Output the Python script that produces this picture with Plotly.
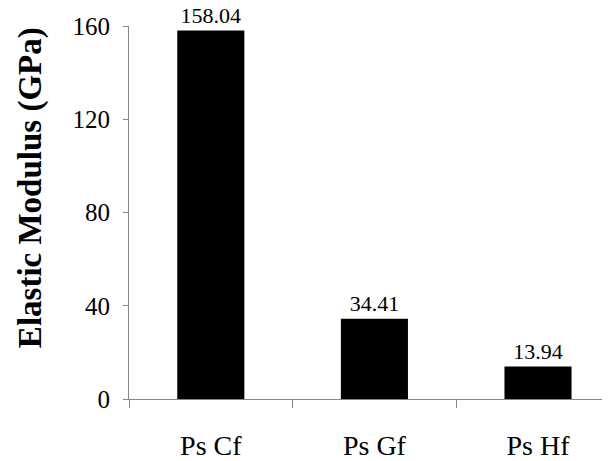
import plotly.graph_objects as go

categories = ["Ps Cf", "Ps Gf", "Ps Hf"]
values = [158.04, 34.41, 13.94]
value_labels = ["158.04", "34.41", "13.94"]
y_ticks = [0, 40, 80, 120, 160]

FONT = "Liberation Serif, Times New Roman, serif"

# page body adds an 8px offset, so figure is sized 602x453
W, H = 602, 453
L, T, B = 121, 18, 60
plot_h = H - T - B

fig = go.Figure(go.Bar(
    x=categories, y=values,
    text=value_labels, textposition="outside", cliponaxis=False,
    textfont=dict(family=FONT, size=22, color="black"),
    marker=dict(color="black", line=dict(width=0)),
    width=0.41,
))

fig.update_layout(
    width=W, height=H,
    margin=dict(l=L, r=0, t=T, b=B),
    plot_bgcolor="white", paper_bgcolor="white",
    showlegend=False,
    xaxis=dict(
        range=[-0.5, 2.44], showline=True, linecolor="#868686", linewidth=1,
        ticks="outside", tickson="boundaries", ticklen=8, tickcolor="#868686",
        tickfont=dict(family=FONT, size=28, color="black"),
        ticklabelstandoff=21, showgrid=False, zeroline=False,
    ),
    yaxis=dict(
        range=[0, 160], tickvals=y_ticks, showline=True, linecolor="#868686", linewidth=1,
        ticks="outside", ticklen=5, tickcolor="#868686",
        tickfont=dict(family=FONT, size=25, color="black"),
        ticklabelstandoff=8, showgrid=False, zeroline=False,
    ),
    annotations=[dict(
        text="<b>Elastic Modulus (GPa)</b>", textangle=-90,
        xref="paper", yref="paper", x=(22 - L) / (W - L), y=1 - (181 - T) / plot_h,
        xanchor="center", yanchor="middle", showarrow=False,
        font=dict(family=FONT, size=33, color="black"),
    )],
)

fig.write_html("out.html")
